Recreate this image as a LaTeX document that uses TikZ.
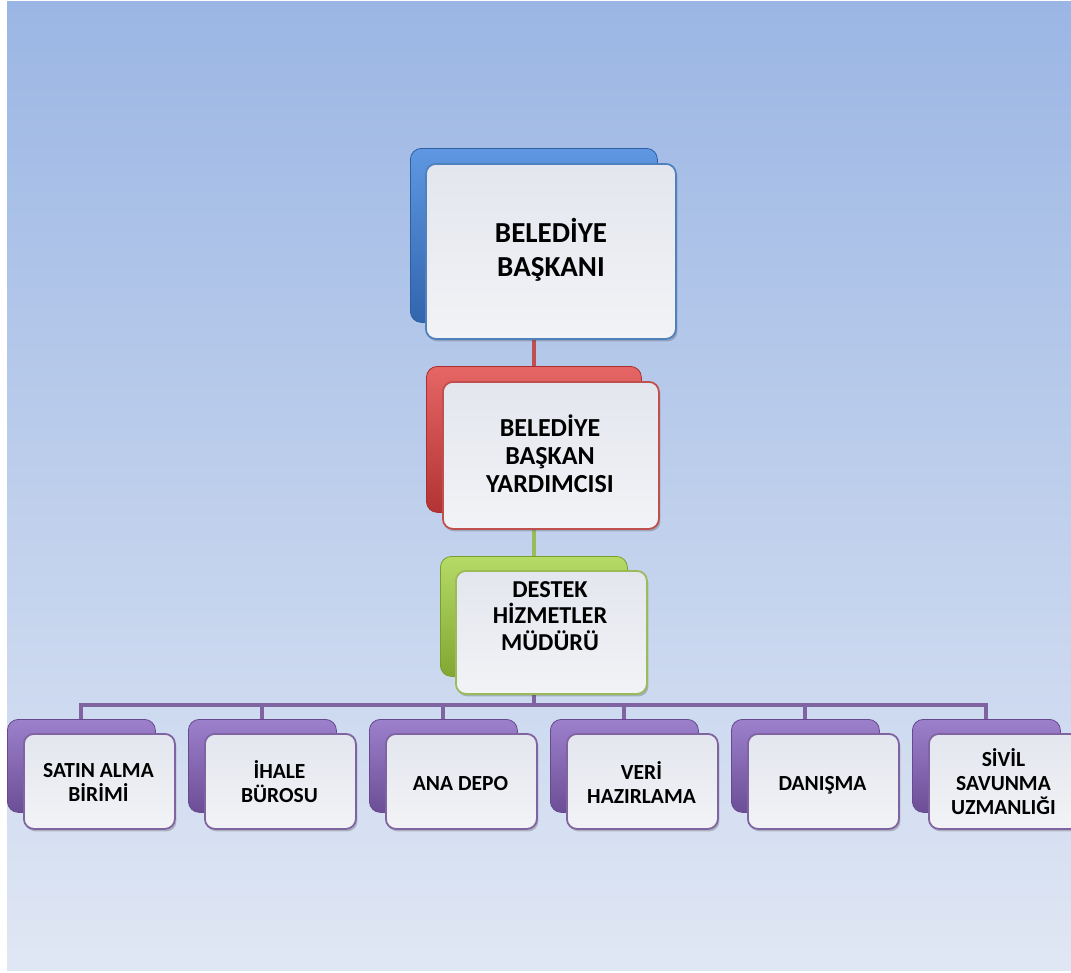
\documentclass[tikz,border=0pt]{standalone}
\usepackage{fontspec}
\setmainfont{Carlito}
\usetikzlibrary{shadows}
\pgfdeclarelayer{bgl}
\pgfdeclarelayer{conn}
\pgfsetlayers{bgl,conn,main}
\definecolor{bgtop}{HTML}{9BB6E4}
\definecolor{bgbot}{HTML}{E0E7F4}
\definecolor{blueD}{HTML}{3A77CC}
\definecolor{blueL}{HTML}{5F97E2}
\definecolor{blueE}{HTML}{4F81BD}
\definecolor{redD}{HTML}{D23C3C}
\definecolor{redL}{HTML}{E66666}
\definecolor{redE}{HTML}{C0504D}
\definecolor{grnD}{HTML}{9AC43C}
\definecolor{grnL}{HTML}{B6DA66}
\definecolor{grnE}{HTML}{9BBB59}
\definecolor{purD}{HTML}{7F5CB0}
\definecolor{purL}{HTML}{9D80CC}
\definecolor{purE}{HTML}{8064A2}
\definecolor{fbTop}{HTML}{E3E6EE}
\definecolor{fbBot}{HTML}{F2F3F6}
\tikzset{
  backbox/.style n args={4}{anchor=north west, inner sep=0pt, rounded corners=11pt,
    minimum width=#3, minimum height=#4, draw=#1!80!black, line width=0.8pt,
    top color=#2, middle color=#1, bottom color=#1!85!black},
  frontbox/.style n args={3}{anchor=north west, inner sep=0pt, rounded corners=10pt,
    minimum width=#2, minimum height=#3, draw=#1, line width=1.8pt,
    top color=fbTop, bottom color=fbBot,
    drop shadow={shadow xshift=1.5pt, shadow yshift=-2.5pt, opacity=0.3, fill=black!70}},
  boxtext/.style={align=center, inner sep=0pt, text=black},
  conline/.style={draw=#1, line width=4.5pt},
}
\begin{document}
\begin{tikzpicture}[x=1pt,y=-1pt]
\useasboundingbox (0,0) rectangle (1071,972);
\begin{pgfonlayer}{bgl}
\fill[white] (0,0) rectangle (1071,972);
\shade[top color=bgtop, bottom color=bgbot] (7,1) rectangle (1071,970);
\end{pgfonlayer}

% top
\node[backbox={blueD}{blueL}{247pt}{174pt}] (b1) at (410,148) {};
\node[frontbox={blueE}{250pt}{175pt}] (f1) at (425,163) {};
\node[boxtext, font=\fontsize{29}{34}\selectfont\bfseries] (t1) at (551,250) {BELEDİYE\\BAŞKANI};

% middle
\node[backbox={redD}{redL}{215pt}{146pt}] (b2) at (426,366) {};
\node[frontbox={redE}{216pt}{147pt}] (f2) at (442,381) {};
\node[boxtext, font=\fontsize{26}{28}\selectfont\bfseries] (t2) at (550,454) {BELEDİYE\\BAŞKAN\\YARDIMCISI};

% green
\node[backbox={grnD}{grnL}{187pt}{120pt}] (b3) at (440,556) {};
\node[frontbox={grnE}{191pt}{123pt}] (f3) at (455,570) {};
\node[boxtext, font=\fontsize{24.3}{26.7}\selectfont\bfseries] (t3) at (550,616) {DESTEK\\HİZMETLER\\MÜDÜRÜ};

% bottom row
\foreach \i/\txt/\dy in {0/{SATIN ALMA\\BİRİMİ}/0,1/{İHALE\\BÜROSU}/0,2/{ANA DEPO}/2,3/{VERİ\\HAZIRLAMA}/0,4/{DANIŞMA}/3,5/{SİVİL\\SAVUNMA\\UZMANLIĞI}/0}{
  \pgfmathsetmacro{\bx}{7+181*\i}
  \pgfmathsetmacro{\fx}{23+181*\i}
  \pgfmathsetmacro{\tx}{98.5+181*\i}
  \pgfmathsetmacro{\ty}{782+\dy}
  \node[backbox={purD}{purL}{148pt}{93pt}] (p\i) at (\bx,719) {};
  \node[frontbox={purE}{151pt}{95pt}] (q\i) at (\fx,733) {};
  \node[boxtext, font=\fontsize{21.5}{24}\selectfont\bfseries] (s\i) at (\tx,\ty) {\txt};
}

\coordinate (bus) at (533.5,705);
\begin{pgfonlayer}{conn}
\draw[conline=redE] (b1.south) -- (b2.north);
\draw[conline=grnE] (b2.south) -- (b3.north);
\foreach \i in {0,...,5}{
  \draw[conline=purE, line width=4pt] (b3.south) |- (bus) -| (p\i.north);
}
\end{pgfonlayer}
\end{tikzpicture}
\end{document}
